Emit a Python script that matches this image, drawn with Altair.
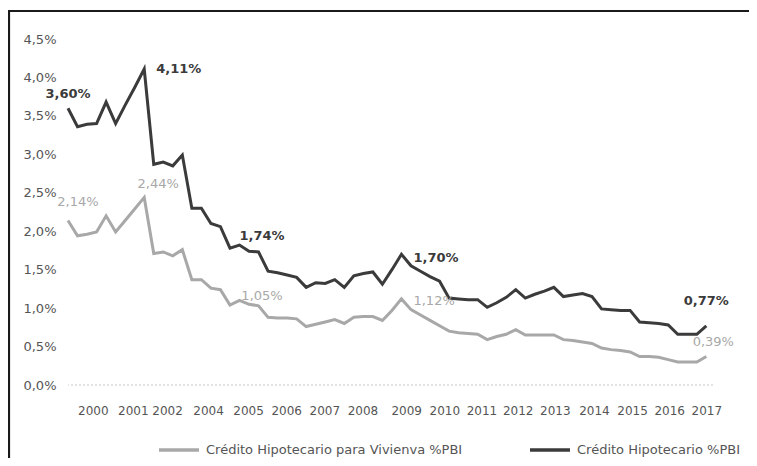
import altair as alt
import pandas as pd

# ---------------- data ----------------
idx = list(range(68))
serie_total = "Crédito Hipotecario %PBI"
serie_viv = "Crédito Hipotecario para Vivienva %PBI"

credito_total = [3.60, 3.36, 3.39, 3.40, 3.68, 3.40, 3.64, 3.87, 4.11, 2.87,
                 2.90, 2.85, 2.99, 2.30, 2.30, 2.10, 2.06, 1.78, 1.82, 1.74,
                 1.73, 1.48, 1.46, 1.43, 1.40, 1.27, 1.33, 1.32, 1.37, 1.27,
                 1.42, 1.45, 1.47, 1.31, 1.50, 1.70, 1.55, 1.48, 1.41, 1.35,
                 1.13, 1.12, 1.11, 1.11, 1.01, 1.07, 1.14, 1.24, 1.13, 1.18,
                 1.22, 1.27, 1.15, 1.17, 1.19, 1.15, 0.99, 0.98, 0.97, 0.97,
                 0.82, 0.81, 0.80, 0.78, 0.66, 0.66, 0.66, 0.77]

credito_vivienda = [2.14, 1.94, 1.96, 1.99, 2.20, 1.99, 2.14, 2.29, 2.44, 1.71,
                    1.73, 1.68, 1.76, 1.37, 1.37, 1.26, 1.24, 1.04, 1.10, 1.05,
                    1.03, 0.88, 0.87, 0.87, 0.86, 0.76, 0.79, 0.82, 0.85, 0.80,
                    0.88, 0.89, 0.89, 0.84, 0.97, 1.12, 0.98, 0.91, 0.84, 0.77,
                    0.70, 0.68, 0.67, 0.66, 0.59, 0.63, 0.66, 0.72, 0.65, 0.65,
                    0.65, 0.65, 0.59, 0.58, 0.56, 0.54, 0.48, 0.46, 0.45, 0.43,
                    0.37, 0.37, 0.36, 0.33, 0.30, 0.30, 0.30, 0.37]

tick_pos = [2.6, 6.8, 10.4, 14.7, 18.9, 22.9, 26.9, 30.9, 35.5, 39.5,
            43.4, 47.2, 51.1, 55.2, 59.2, 63.1, 67.0]
tick_years = ["2000", "2001", "2002", "2004", "2005", "2006", "2007", "2008",
              "2009", "2010", "2011", "2012", "2013", "2014", "2015", "2016", "2017"]
y_ticks = [0.0, 0.5, 1.0, 1.5, 2.0, 2.5, 3.0, 3.5, 4.0, 4.5]

# annotated points
lab_idx = [0, 8, 19, 35, 67, 0, 8, 19, 35, 67]
lab_serie = [serie_total] * 5 + [serie_viv] * 5
lab_text = ["3,60%", "4,11%", "1,74%", "1,70%", "0,77%",
            "2,14%", "2,44%", "1,05%", "1,12%", "0,39%"]

# ---------------- styles ----------------
FONT = "DejaVu Sans"
DARK = "#3b3b3b"
GREY = "#a8a8a8"
AXIS_C = "#555555"
# (align, dx, dy) per annotation
lab_style = [("center", 0, -14), ("left", 12, 0), ("center", 13, -15), ("left", 12, 4), ("center", 0, -25),
             ("center", 10, -18), ("center", 14, -13), ("center", 13, -8), ("left", 12, 2), ("center", 7, -15)]

df = pd.DataFrame({
    "idx": idx + idx,
    "value": credito_vivienda + credito_total,
    "serie": [serie_viv] * len(idx) + [serie_total] * len(idx),
})

x_label_expr = "[" + ",".join("'%s'" % y for y in tick_years) + "][indexof([" + \
    ",".join(str(p) for p in tick_pos) + "], datum.value)]"

x_scale = alt.Scale(domain=[0, 67.7], nice=False, zero=False)
y_scale = alt.Scale(domain=[0, 4.5], nice=False)

x_axis = alt.Axis(values=tick_pos, labelExpr=x_label_expr, title=None,
                  domain=False, ticks=False, grid=False, labelPadding=20,
                  labelFontSize=12, labelFont=FONT, labelColor=AXIS_C,
                  labelOverlap=False, labelFlush=False, labelBound=False)
y_axis = alt.Axis(values=y_ticks,
                  labelExpr="replace(format(datum.value, '.1f'), '.', ',') + '%'",
                  title=None, domain=False, ticks=False, grid=False,
                  labelPadding=12, labelFontSize=13, labelFont=FONT,
                  labelColor=AXIS_C, labelOverlap=False, labelFlush=False,
                  labelBound=False)

lines = alt.Chart(df).mark_line(strokeWidth=3, strokeJoin="miter").encode(
    x=alt.X("idx:Q", scale=x_scale, axis=x_axis),
    y=alt.Y("value:Q", scale=y_scale, axis=y_axis),
    color=alt.Color("serie:N",
                    scale=alt.Scale(domain=[serie_viv, serie_total], range=[GREY, DARK]),
                    sort=[serie_viv, serie_total],
                    legend=alt.Legend(orient="none", legendX=89, legendY=389,
                                      direction="horizontal", title=None,
                                      symbolType="stroke", symbolSize=1600,
                                      symbolStrokeWidth=3.5, labelFontSize=13,
                                      labelFont=FONT, labelColor=AXIS_C,
                                      labelLimit=400, columnPadding=60,
                                      labelOffset=5)),
    order=alt.Order("idx:Q"),
)

zero_rule = alt.Chart(pd.DataFrame({"value": [0.0]})).mark_rule(
    strokeDash=[2, 2], color="#c8c8c8", strokeWidth=1).encode(
    y=alt.Y("value:Q", scale=y_scale, axis=y_axis))

frame_top = alt.Chart(pd.DataFrame({"a": [0]})).mark_rule(color="#1a1a1a", strokeWidth=2.2).encode(
    x=alt.value(-60), x2=alt.value(681), y=alt.value(-28))
frame_left = alt.Chart(pd.DataFrame({"a": [0]})).mark_rule(color="#1a1a1a", strokeWidth=2.2).encode(
    x=alt.value(-59), y=alt.value(-29), y2=alt.value(420))

val_map = {serie_total: credito_total, serie_viv: credito_vivienda}
label_layers = []
for i, s, t, (al, dx, dy) in zip(lab_idx, lab_serie, lab_text, lab_style):
    d = pd.DataFrame({"idx": [i], "value": [val_map[s][i]], "text": [t]})
    is_dark = s == serie_total
    label_layers.append(
        alt.Chart(d).mark_text(align=al, baseline="middle", dx=dx, dy=dy, fontSize=13,
                               font=FONT, fontWeight="bold" if is_dark else "normal",
                               color=DARK if is_dark else GREY).encode(
            x=alt.X("idx:Q", scale=x_scale, axis=x_axis),
            y=alt.Y("value:Q", scale=y_scale, axis=y_axis),
            text="text:N"))

chart = alt.layer(lines, zero_rule, frame_top, frame_left, *label_layers).properties(
    width=645, height=346,
    autosize=alt.AutoSizeParams(type="none"),
    padding={"left": 60, "top": 31, "right": 36, "bottom": 73},
    background="white",
).configure_view(stroke=None).configure_axis(labelOverlap=False)

chart.save("out.html", embed_options={"renderer": "svg", "actions": False})
